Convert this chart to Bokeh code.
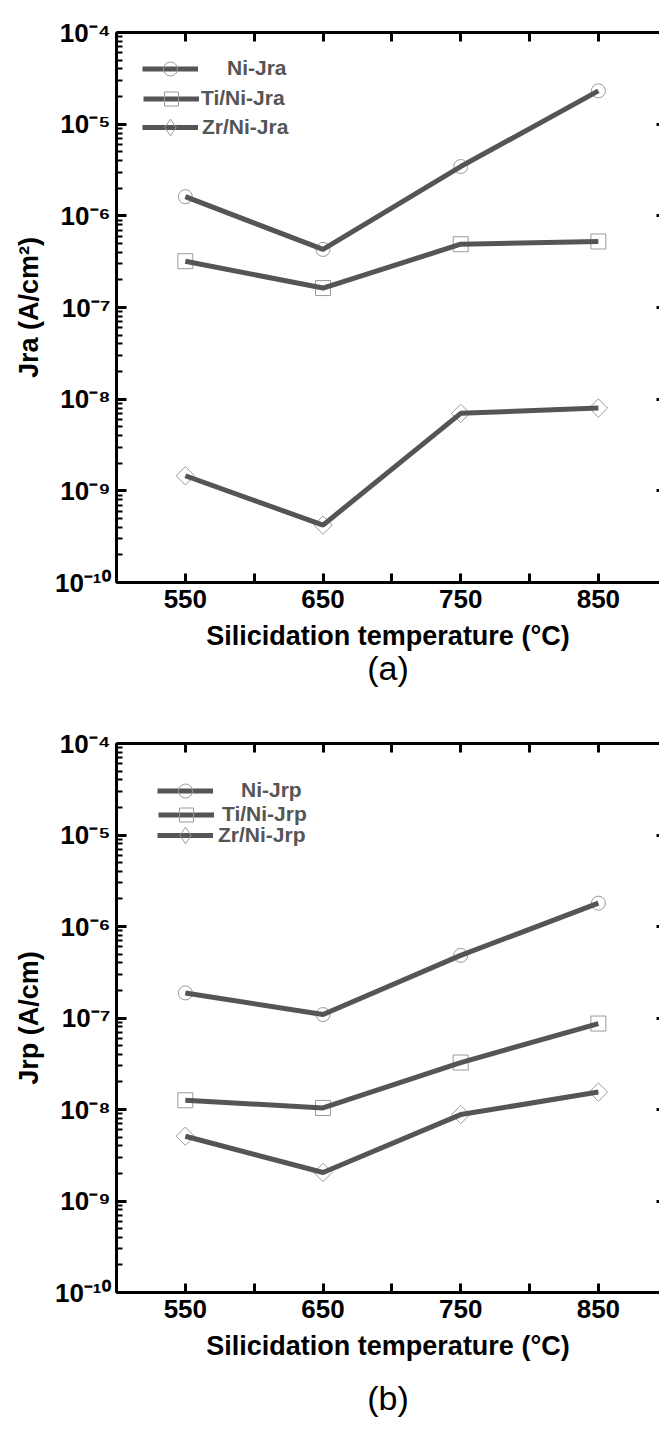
from bokeh.plotting import figure
from bokeh.layouts import column
from bokeh.models import (FixedTicker, LogAxis, LinearAxis, Range1d, Legend,
                          LegendItem, Title, CustomJSTickFormatter)
from bokeh.embed import file_html
from bokeh.resources import INLINE
import math

# ---------------- data ----------------
temps = [550, 650, 750, 850]

ni_jra = [1.62e-6, 4.3e-7, 3.45e-6, 2.31e-5]
ti_jra = [3.2e-7, 1.63e-7, 4.9e-7, 5.25e-7]
zr_jra = [1.46e-9, 4.23e-10, 7.0e-9, 8.0e-9]

ni_jrp = [1.88e-7, 1.09e-7, 4.83e-7, 1.80e-6]
ti_jrp = [1.26e-8, 1.04e-8, 3.26e-8, 8.7e-8]
zr_jrp = [5.1e-9, 2.05e-9, 8.8e-9, 1.55e-8]

labels_a = ["Ni-Jra", "Ti/Ni-Jra", "Zr/Ni-Jra"]
labels_b = ["Ni-Jrp", "Ti/Ni-Jrp", "Zr/Ni-Jrp"]

x_major = [550, 650, 750, 850]
x_minor = [500, 600, 700, 800, 900]
y_decades = [1e-10, 1e-9, 1e-8, 1e-7, 1e-6, 1e-5, 1e-4]
y_tick_text = ["10\u207b\u00b9\u2070", "10\u207b\u2079", "10\u207b\u2078", "10\u207b\u2077",
               "10\u207b\u2076", "10\u207b\u2075", "10\u207b\u2074"]

FONT = "Liberation Sans"
LINE_COLOR = "#555555"
MARK_COLOR = "#9a9a9a"
FRAME_H = 550


def make_panel(series, labels, ylabel, caption, height, border_top, border_bottom,
               legend_rows, cap_standoff):
    p = figure(width=659, height=height, output_backend="svg", toolbar_location=None,
               y_axis_type="log", x_range=Range1d(500, 894.4),
               y_range=Range1d(1e-10, 1e-4), title_location=None,
               min_border_left=116, min_border_right=0,
               min_border_top=border_top, min_border_bottom=border_bottom)
    p.outline_line_color = None
    p.grid.visible = False
    p.background_fill_color = "white"
    p.border_fill_color = "white"

    plot_markers = [dict(marker="circle", size=14, angle=0.0),
                    dict(marker="square", size=15, angle=0.0),
                    dict(marker="square", size=13, angle=math.pi / 4)]
    for k, (ys, lab, mk) in enumerate(zip(series, labels, plot_markers)):
        s = p.scatter(temps, ys, marker=mk["marker"], size=mk["size"], angle=mk["angle"],
                      fill_color=None, line_color=MARK_COLOR, line_width=1)
        l = p.line(temps, ys, line_color=LINE_COLOR, line_width=5)
        if k == 2:
            # legend symbol only (a diamond); its single point is NaN, so nothing is drawn
            s = p.scatter(x=[float("nan")], y=[float("nan")], marker="diamond", size=14,
                          fill_color=None, line_color=MARK_COLOR, line_width=1)
        x0, row_center, gh, standoff = legend_rows[k]
        leg = Legend(items=[LegendItem(label=lab, renderers=[l, s])],
                     location=(x0, FRAME_H - row_center - gh / 2),
                     padding=0, margin=0, spacing=0, glyph_width=56, glyph_height=gh,
                     label_height=gh, label_standoff=standoff,
                     label_text_font=FONT, label_text_font_style="bold",
                     label_text_font_size="21px", label_text_color=LINE_COLOR,
                     background_fill_alpha=0, border_line_color=None)
        p.add_layout(leg)

    # bottom x axis
    xa = p.xaxis[0]
    xa.ticker = FixedTicker(ticks=x_major, minor_ticks=x_minor)
    xa.major_tick_in = 9
    xa.major_tick_out = 0
    xa.minor_tick_in = 9
    xa.minor_tick_out = 0
    xa.major_tick_line_width = 3
    xa.minor_tick_line_width = 3
    xa.axis_line_width = 3
    xa.axis_line_color = "black"
    xa.major_tick_line_color = "black"
    xa.minor_tick_line_color = "black"
    xa.major_label_text_font = FONT
    xa.major_label_text_font_style = "bold"
    xa.major_label_text_font_size = "26px"
    xa.major_label_text_color = "black"
    xa.major_label_standoff = 7
    xa.axis_label = "Silicidation temperature (\u00b0C)"
    xa.axis_label_text_font = FONT
    xa.axis_label_text_font_style = "bold"
    xa.axis_label_text_font_size = "27px"
    xa.axis_label_text_color = "black"
    xa.axis_label_standoff = 10

    # left y axis
    ya = p.yaxis[0]
    ya.ticker = FixedTicker(ticks=y_decades,
                            minor_ticks=[m * d for d in y_decades[:-1] for m in range(2, 10)])
    ya.major_label_overrides = dict(zip(y_decades, y_tick_text))
    ya.major_tick_in = 10
    ya.major_tick_out = 0
    ya.minor_tick_in = 6
    ya.minor_tick_out = 0
    ya.major_tick_line_width = 3
    ya.minor_tick_line_width = 2
    ya.axis_line_width = 3
    ya.axis_line_color = "black"
    ya.major_tick_line_color = "black"
    ya.minor_tick_line_color = "black"
    ya.major_label_text_font = FONT
    ya.major_label_text_font_style = "bold"
    ya.major_label_text_font_size = "26px"
    ya.major_label_text_color = "black"
    ya.major_label_standoff = 6
    ya.axis_label = ylabel
    ya.axis_label_text_font = FONT
    ya.axis_label_text_font_style = "bold"
    ya.axis_label_text_font_size = "27px"
    ya.axis_label_text_color = "black"
    ya.axis_label_standoff = 8

    blank = CustomJSTickFormatter(code="return ''")
    # top axis (ticks only)
    ta = LinearAxis(ticker=FixedTicker(ticks=x_major, minor_ticks=x_minor), formatter=blank,
                    major_tick_in=9, major_tick_out=0, minor_tick_in=9, minor_tick_out=0,
                    major_tick_line_width=3, minor_tick_line_width=3, axis_line_width=3,
                    major_label_standoff=0)
    p.add_layout(ta, "above")
    # right axis (ticks only, its line lies past the page edge)
    ra = LogAxis(ticker=FixedTicker(ticks=y_decades, minor_ticks=[]), formatter=blank,
                 major_tick_in=3, major_tick_out=0, minor_tick_in=0, minor_tick_out=0,
                 major_tick_line_width=3, axis_line_color=None, major_label_standoff=0)
    p.add_layout(ra, "right")

    cap = Title(text=caption, align="center", text_font=FONT, text_font_style="normal",
                text_font_size="34px", text_color="black", standoff=cap_standoff)
    p.add_layout(cap, "below")
    return p


# legend rows: (x offset from frame, row centre below frame top, glyph height, label standoff)
rows_a = [(26, 36, 35, 29), (27, 66, 35, 2), (26, 95, 42, 4)]
rows_b = [(41, 48, 35, 28), (42, 72, 35, 8), (41, 93, 42, 5)]

pa = make_panel([ni_jra, ti_jra, zr_jra], labels_a, "Jra (A/cm\u00b2)", "(a)",
                height=711, border_top=32, border_bottom=129,
                legend_rows=rows_a, cap_standoff=-13)
pb = make_panel([ni_jrp, ti_jrp, zr_jrp], labels_b, "Jrp (A/cm)", "(b)",
                height=719, border_top=32, border_bottom=137,
                legend_rows=rows_b, cap_standoff=27)

layout = column(pa, pb, spacing=0)
open("out.html", "w").write(file_html(layout, INLINE))
